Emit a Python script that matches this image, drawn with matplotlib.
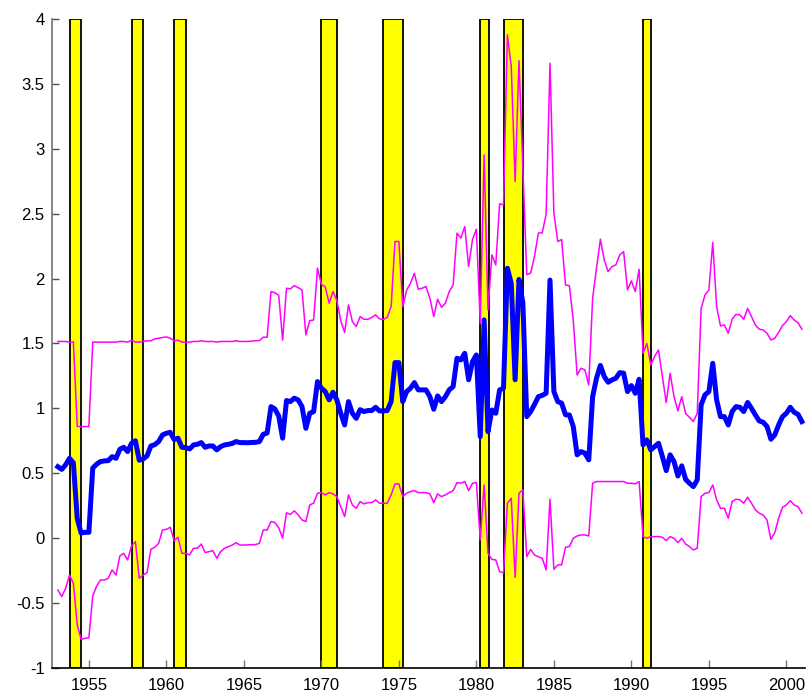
import numpy as np
import matplotlib
matplotlib.use("Agg")
import matplotlib.pyplot as plt
from matplotlib.ticker import FuncFormatter

plt.rcParams['font.family'] = ['Liberation Sans', 'DejaVu Sans']
plt.rcParams['axes.unicode_minus'] = False

# quarterly series, first quarter = 1953.0
start_year = 1953.0

center = [
    0.55, 0.53, 0.565, 0.615,        # 1953
    0.58, 0.15, 0.04, 0.045,         # 1954
    0.045, 0.54, 0.57, 0.59,         # 1955
    0.595, 0.597, 0.628, 0.615,      # 1956
    0.685, 0.70, 0.667, 0.73,        # 1957
    0.75, 0.60, 0.61, 0.633,         # 1958
    0.71, 0.72, 0.744, 0.795,        # 1959
    0.808, 0.815, 0.76, 0.77,        # 1960
    0.70, 0.697, 0.687, 0.718,       # 1961
    0.723, 0.736, 0.70, 0.71,        # 1962
    0.71, 0.68, 0.705, 0.718,        # 1963
    0.723, 0.73, 0.744, 0.736,       # 1964
    0.736, 0.735, 0.737, 0.738,      # 1965
    0.744, 0.80, 0.81, 1.013,        # 1966
    0.995, 0.94, 0.77, 1.06,         # 1967
    1.052, 1.078, 1.065, 1.013,      # 1968
    0.846, 0.962, 0.975, 1.206,      # 1969
    1.155, 1.129, 1.065, 1.124,      # 1970
    1.065, 0.962, 0.872, 1.052,      # 1971
    0.962, 0.923, 0.99, 0.975,       # 1972
    0.983, 0.983, 1.008, 0.98,       # 1973
    0.98, 0.983, 1.052, 1.352,       # 1974
    1.352, 1.052, 1.129, 1.155,      # 1975
    1.198, 1.142, 1.142, 1.142,      # 1976
    1.09, 0.993, 1.096, 1.052,       # 1977
    1.09, 1.142, 1.168, 1.386,       # 1978
    1.373, 1.424, 1.22, 1.36,        # 1979
    1.411, 0.782, 1.681, 0.82,       # 1980
    0.987, 0.962, 1.142, 1.155,      # 1981
    2.079, 1.963, 1.22, 1.993,       # 1982
    1.81, 0.936, 0.975, 1.03,        # 1983
    1.09, 1.10, 1.116, 1.988,        # 1984
    1.13, 1.052, 1.04, 0.95,         # 1985
    0.949, 0.86, 0.642, 0.667,       # 1986
    0.655, 0.603, 1.09, 1.232,       # 1987
    1.33, 1.245, 1.201, 1.219,       # 1988
    1.232, 1.275, 1.271, 1.129,      # 1989
    1.175, 1.116, 1.224, 0.718,      # 1990
    0.757, 0.68, 0.706, 0.731,       # 1991
    0.629, 0.52, 0.642, 0.59,        # 1992
    0.479, 0.557, 0.453, 0.423,      # 1993
    0.397, 0.449, 1.027, 1.104,      # 1994
    1.129, 1.347, 1.065, 0.936,      # 1995
    0.936, 0.872, 0.975, 1.013,      # 1996
    1.008, 0.975, 1.045, 1.0,        # 1997
    0.949, 0.903, 0.893, 0.86,       # 1998
    0.762, 0.795, 0.872, 0.936,      # 1999
    0.962, 1.008, 0.97, 0.954,       # 2000
    0.898,                           # 2001
]

upper = [
    1.515, 1.515, 1.515, 1.51,
    1.51, 0.86, 0.86, 0.86,
    0.86, 1.51, 1.51, 1.51,
    1.51, 1.51, 1.51, 1.51,
    1.515, 1.515, 1.51, 1.525,
    1.51, 1.51, 1.515, 1.52,
    1.52, 1.535, 1.54, 1.545,
    1.55, 1.54, 1.52, 1.525,
    1.51, 1.51, 1.51, 1.515,
    1.515, 1.52, 1.515, 1.515,
    1.515, 1.51, 1.515, 1.515,
    1.515, 1.515, 1.52, 1.515,
    1.515, 1.515, 1.518, 1.52,
    1.522, 1.548, 1.548, 1.90,
    1.89, 1.87, 1.525, 1.925,
    1.92, 1.945, 1.93, 1.912,
    1.566, 1.676, 1.68, 2.08,
    1.955, 1.935, 1.81, 1.9,
    1.83, 1.675, 1.584, 1.797,
    1.668, 1.63, 1.707, 1.686,
    1.686, 1.70, 1.72, 1.689,
    1.685, 1.70, 1.783, 2.285,
    2.285, 1.783, 1.91, 1.964,
    2.04, 1.917, 1.925, 1.938,
    1.848, 1.707, 1.84, 1.778,
    1.81, 1.9, 1.951, 2.349,
    2.311, 2.40, 2.092, 2.30,
    2.38, 1.655, 2.952, 1.758,
    2.182, 2.105, 2.575, 2.567,
    3.877, 3.633, 2.747, 3.677,
    2.85, 2.03, 2.04, 2.17,
    2.35, 2.352, 2.495, 3.658,
    2.503, 2.285, 2.30, 1.95,
    1.945, 1.68, 1.257, 1.309,
    1.296, 1.18, 1.848, 2.08,
    2.303, 2.143, 2.053, 2.092,
    2.105, 2.182, 2.207, 1.912,
    1.982, 1.9, 2.071, 1.424,
    1.50, 1.334, 1.40, 1.45,
    1.244, 1.044, 1.27, 1.09,
    0.98, 1.09, 0.96, 0.93,
    0.898, 0.962, 1.77, 1.874,
    1.912, 2.277, 1.783, 1.635,
    1.642, 1.578, 1.686, 1.724,
    1.72, 1.686, 1.77, 1.707,
    1.642, 1.609, 1.604, 1.578,
    1.527, 1.54, 1.584, 1.638,
    1.668, 1.714, 1.681, 1.66,
    1.609,
]

lower = [
    -0.40, -0.45, -0.386, -0.284,
    -0.348, -0.669, -0.779, -0.772,
    -0.767, -0.445, -0.369, -0.322,
    -0.322, -0.309, -0.245, -0.284,
    -0.137, -0.117, -0.168, -0.06,
    -0.027, -0.309, -0.284, -0.266,
    -0.086, -0.07, -0.04, 0.063,
    0.068, 0.084, -0.019, 0.007,
    -0.117, -0.117, -0.129, -0.078,
    -0.078, -0.045, -0.111, -0.104,
    -0.096, -0.155, -0.104, -0.078,
    -0.065, -0.053, -0.035, -0.053,
    -0.053, -0.052, -0.05, -0.05,
    -0.04, 0.063, 0.063, 0.128,
    0.12, 0.08, 0.0, 0.195,
    0.183, 0.21, 0.18, 0.14,
    0.128, 0.256, 0.269, 0.346,
    0.351, 0.333, 0.351, 0.341,
    0.32, 0.243, 0.166, 0.333,
    0.256, 0.23, 0.282, 0.264,
    0.274, 0.274, 0.295, 0.269,
    0.269, 0.269, 0.333, 0.418,
    0.418, 0.32, 0.346, 0.359,
    0.366, 0.351, 0.351, 0.351,
    0.341, 0.274, 0.341, 0.32,
    0.333, 0.351, 0.366, 0.428,
    0.423, 0.436, 0.366, 0.423,
    0.428, -0.014, 0.41, -0.117,
    -0.163, -0.168, -0.258, -0.266,
    0.269, 0.307, -0.302, 0.346,
    0.372, -0.143, -0.086, -0.13,
    -0.143, -0.155, -0.245, 0.30,
    -0.24, -0.206, -0.206, -0.07,
    -0.065, -0.001, 0.017, 0.025,
    0.025, 0.017, 0.423, 0.436,
    0.436, 0.436, 0.436, 0.436,
    0.436, 0.436, 0.436, 0.423,
    0.423, 0.418, 0.436, 0.012,
    -0.001, 0.012, 0.012, 0.012,
    0.007, -0.019, 0.012, -0.001,
    -0.034, -0.001, -0.045, -0.065,
    -0.091, -0.078, 0.32, 0.346,
    0.351, 0.41, 0.295, 0.23,
    0.23, 0.153, 0.282, 0.30,
    0.295, 0.269, 0.315, 0.269,
    0.218, 0.192, 0.179, 0.14,
    -0.009, 0.042, 0.153, 0.238,
    0.256, 0.289, 0.256, 0.243,
    0.192,
]

# recession periods (start, end)
rec_start = [1953.75, 1957.75, 1960.5, 1970.0, 1974.0, 1980.25, 1981.75, 1990.75]
rec_end = [1954.5, 1958.5, 1961.25, 1971.0, 1975.25, 1980.8, 1983.0, 1991.25]

years = start_year + 0.25 * np.arange(len(center))

fig = plt.figure(figsize=(8.1, 6.98), dpi=100)
ax = fig.add_axes([0.0638, 0.043, 0.930, 0.930])

for a, b in zip(rec_start, rec_end):
    ax.axvspan(a, b, facecolor='#ffff00', edgecolor='k', linewidth=1.3, zorder=1)

ax.plot(years, upper, color='#ff00ff', linewidth=1.1, zorder=2)
ax.plot(years, lower, color='#ff00ff', linewidth=1.1, zorder=2)
ax.plot(years, center, color='#0000ff', linewidth=3.6, zorder=3)

ax.set_xlim(1952.6, 2001.2)
ax.set_ylim(-1, 4)
ax.set_xticks(np.arange(1955, 2001, 5))
ax.set_yticks(np.arange(-1, 4.01, 0.5))
ax.yaxis.set_major_formatter(FuncFormatter(lambda v, p: ('%g' % v)))

ax.spines['top'].set_visible(False)
ax.spines['right'].set_visible(False)
ax.spines['left'].set_color('0.45')
ax.spines['left'].set_linewidth(1.2)
ax.spines['bottom'].set_color('k')
ax.spines['bottom'].set_linewidth(1.2)

ax.tick_params(axis='x', direction='in', length=6, width=1, color='0.45',
               labelsize=12, pad=7)
ax.tick_params(axis='y', direction='in', length=5, width=1, color='0.3',
               labelsize=12, pad=5)

fig.savefig('out.png', dpi=100)
